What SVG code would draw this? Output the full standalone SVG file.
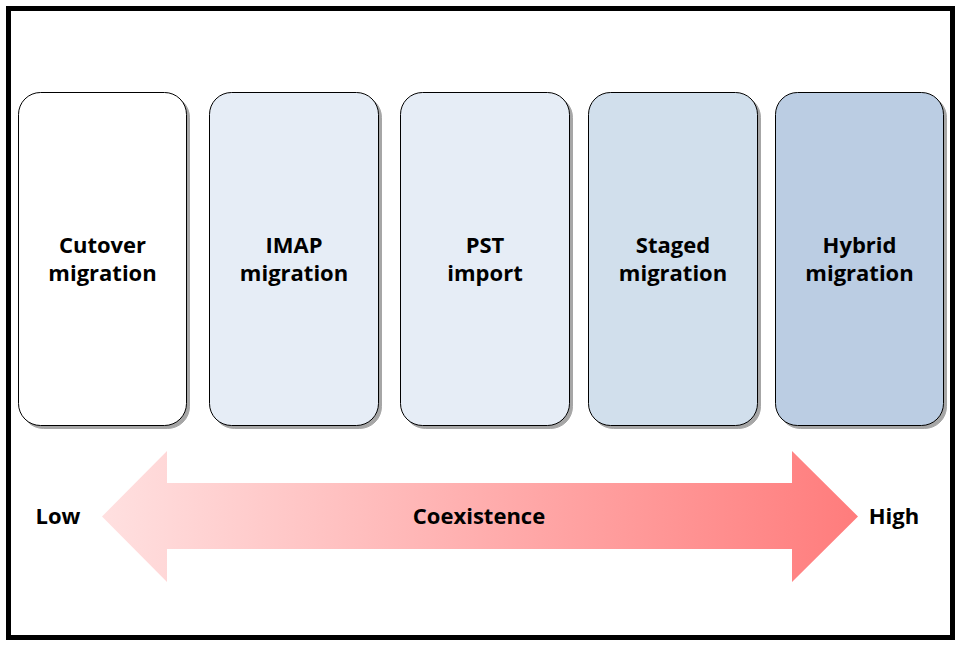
<svg xmlns="http://www.w3.org/2000/svg" width="960" height="645" viewBox="0 0 960 645">
<defs>
<linearGradient id="arrowGrad" x1="102" y1="0" x2="858" y2="0" gradientUnits="userSpaceOnUse">
<stop offset="0" stop-color="#FFE0E0"/>
<stop offset="1" stop-color="#FF7C7C"/>
</linearGradient>
<filter id="shadow" x="-10%" y="-10%" width="130%" height="130%">
<feOffset in="SourceAlpha" dx="2.5" dy="2.5" result="off"/>
<feComponentTransfer in="off" result="sh"><feFuncA type="linear" slope="0.35"/></feComponentTransfer>
<feMerge><feMergeNode in="sh"/><feMergeNode in="SourceGraphic"/></feMerge>
</filter>
</defs>
<style>
.box { stroke: #000; stroke-width: 1; filter: url(#shadow); }
.lbl { font-family: "Open Sans", "Noto Sans", "DejaVu Sans", sans-serif; font-weight: bold; font-size: 22px; fill: #000; text-anchor: middle; }
</style>
<rect x="0" y="0" width="960" height="645" fill="#fff"/>
<rect x="8.5" y="8.5" width="944" height="629" fill="#fff" stroke="#000" stroke-width="5"/>
<g id="connectors">
<path id="coexistence-arrow" d="M102,516.5 L167,451 L167,483 L792,483 L792,451 L858,516.5 L792,582 L792,549 L167,549 L167,582 Z" fill="url(#arrowGrad)"/>
</g>
<g id="node-cutover">
<rect class="box" x="18.5" y="92.5" width="168" height="333" rx="22" ry="22" fill="#FFFFFF"/>
<text class="lbl" x="102.5" y="253">Cutover</text>
<text class="lbl" x="102.5" y="281">migration</text>
</g>
<g id="node-imap">
<rect class="box" x="209.5" y="92.5" width="169" height="333" rx="22" ry="22" fill="#E6EDF6"/>
<text class="lbl" x="294" y="253">IMAP</text>
<text class="lbl" x="294" y="281">migration</text>
</g>
<g id="node-pst">
<rect class="box" x="400.5" y="92.5" width="169" height="333" rx="22" ry="22" fill="#E6EDF6"/>
<text class="lbl" x="485" y="253">PST</text>
<text class="lbl" x="485" y="281">import</text>
</g>
<g id="node-staged">
<rect class="box" x="588.5" y="92.5" width="169" height="333" rx="22" ry="22" fill="#D1DFEC"/>
<text class="lbl" x="673" y="253">Staged</text>
<text class="lbl" x="673" y="281">migration</text>
</g>
<g id="node-hybrid">
<rect class="box" x="775.5" y="92.5" width="168" height="333" rx="22" ry="22" fill="#BBCDE3"/>
<text class="lbl" x="859.5" y="253">Hybrid</text>
<text class="lbl" x="859.5" y="281">migration</text>
</g>
<g id="labels">
<text class="lbl" x="479" y="524">Coexistence</text>
<text class="lbl" x="58" y="524">Low</text>
<text class="lbl" x="894" y="524">High</text>
</g>
</svg>
